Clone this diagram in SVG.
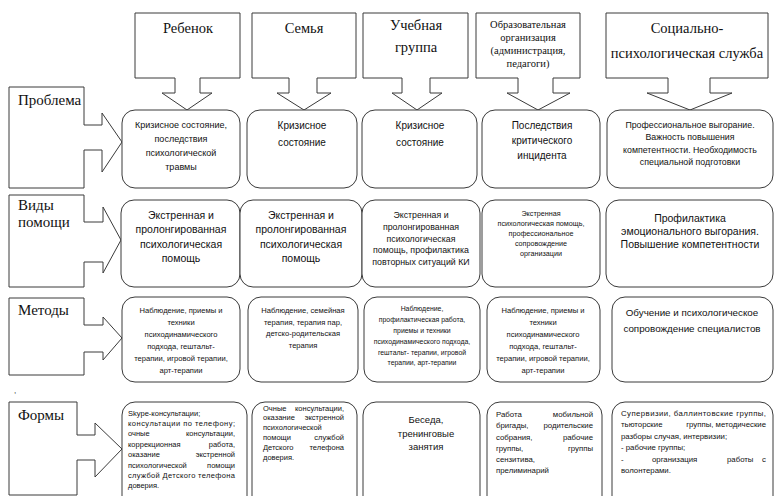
<svg xmlns="http://www.w3.org/2000/svg" width="776" height="496" viewBox="0 0 776 496">
<style>
.shape{fill:#fff;stroke:#3a3a3a;stroke-width:1}
.hdr{font-family:"Liberation Serif","Times New Roman",serif;fill:#111;font-size:14.5px}
.hdrs{font-family:"Liberation Serif","Times New Roman",serif;fill:#111;font-size:10.5px}
.lbl{font-family:"Liberation Serif","Times New Roman",serif;fill:#111;font-size:15px}
.t{font-family:"Liberation Sans",Arial,sans-serif;fill:#111}
.c{text-anchor:middle}
.e{text-anchor:end}
</style>
<rect width="776" height="496" fill="#fff"/>

<!-- Column headers (down-arrow callouts) -->
<g id="h-child">
<path class="shape" d="M135,13 H240 V78 H200 V93 H212 L187,110 L162,93 H175 V78 H135 Z"/>
<text class="hdr c" x="188" y="33">Ребенок</text>
</g>
<g id="h-family">
<path class="shape" d="M252,13 H356 V78 H317 V93 H331 L304,110 L277,93 H289 V78 H252 Z"/>
<text class="hdr c" x="304" y="33">Семья</text>
</g>
<g id="h-group">
<path class="shape" d="M363,13 H468 V78 H430 V93 H442 L417,110 L392,93 H402 V78 H363 Z"/>
<text class="hdr c" x="416" y="30">Учебная</text>
<text class="hdr c" x="416" y="52">группа</text>
</g>
<g id="h-org">
<path class="shape" d="M476,13 H580 V78 H553 V93 H570 L538,110 L507,93 H518 V78 H476 Z"/>
<text class="hdrs c" x="528" y="28">Образовательная</text>
<text class="hdrs c" x="528" y="41">организация</text>
<text class="hdrs c" x="528" y="54">(администрация,</text>
<text class="hdrs c" x="528" y="67">педагоги)</text>
</g>
<g id="h-service">
<path class="shape" d="M606,13 H768 V78 H710 V93 H732 L690,110 L647,93 H668 V78 H606 Z"/>
<text class="hdr c" x="687" y="33">Социально-</text>
<text class="hdr c" x="687" y="58">психологическая служба</text>
</g>

<!-- Row labels (right-arrow callouts) -->
<g id="r-problem">
<path class="shape" d="M9,87 H84 V125 H102 V113 L122,142 L102,172 V150 H84 V188 H9 Z"/>
<text class="lbl" x="18" y="105">Проблема</text>
</g>
<g id="r-help">
<path class="shape" d="M9,195 H84 V222 H103 V207 L121,240 L103,273 V262 H84 V287 H9 Z"/>
<text class="lbl" x="18" y="210">Виды</text>
<text class="lbl" x="18" y="227">помощи</text>
</g>
<g id="r-methods">
<path class="shape" d="M9,298 H84 V325 H103 V317 L122,338 L103,360 V352 H84 V375 H9 Z"/>
<text class="lbl" x="18" y="315">Методы</text>
</g>
<g id="r-forms">
<path class="shape" d="M9,402 H77 V435 H95 V423 L122,449 L95,477 V460 H77 V495 H9 Z"/>
<text class="lbl" x="18" y="420">Формы</text>
</g>
<text class="t" x="14" y="393" font-size="8">,</text>

<g id="connectors"></g>

<!-- Row 1: Problem -->
<g id="p-child">
<rect class="shape" x="122" y="110" width="118" height="78" rx="13"/>
<g class="t c" font-size="9">
<text x="181" y="128">Кризисное состояние,</text>
<text x="181" y="142">последствия</text>
<text x="181" y="156">психологической</text>
<text x="181" y="170">травмы</text>
</g>
</g>
<g id="p-family">
<rect class="shape" x="247" y="110" width="110" height="78" rx="13"/>
<g class="t c" font-size="10">
<text x="302" y="128.5">Кризисное</text>
<text x="302" y="145.5">состояние</text>
</g>
</g>
<g id="p-group">
<rect class="shape" x="362" y="110" width="115" height="78" rx="13"/>
<g class="t c" font-size="10">
<text x="420" y="128.5">Кризисное</text>
<text x="420" y="145.5">состояние</text>
</g>
</g>
<g id="p-org">
<rect class="shape" x="482" y="110" width="118" height="78" rx="13"/>
<g class="t c" font-size="10">
<text x="542" y="128.5">Последствия</text>
<text x="542" y="143.5">критического</text>
<text x="542" y="158.5">инцидента</text>
</g>
</g>
<g id="p-service">
<rect class="shape" x="607" y="110" width="166" height="78" rx="13"/>
<g class="t c" font-size="8.8">
<text x="690" y="128">Профессиональное выгорание.</text>
<text x="690" y="140">Важность повышения</text>
<text x="690" y="153">компетентности. Необходимость</text>
<text x="690" y="165">специальной подготовки</text>
</g>
</g>

<!-- Row 2: Types of help -->
<g id="v-child">
<rect class="shape" x="121" y="200" width="119" height="87" rx="13"/>
<g class="t c" font-size="10.5">
<text x="181" y="218.5">Экстренная и</text>
<text x="181" y="233">пролонгированная</text>
<text x="181" y="247.5">психологическая</text>
<text x="181" y="262">помощь</text>
</g>
</g>
<g id="v-family">
<rect class="shape" x="240" y="200" width="122" height="87" rx="13"/>
<g class="t c" font-size="10.5">
<text x="301" y="218.5">Экстренная и</text>
<text x="301" y="233">пролонгированная</text>
<text x="301" y="247.5">психологическая</text>
<text x="301" y="262">помощь</text>
</g>
</g>
<g id="v-group">
<rect class="shape" x="362" y="200" width="118" height="87" rx="13"/>
<g class="t c" font-size="8.8">
<text x="421" y="218">Экстренная и</text>
<text x="421" y="230">пролонгированная</text>
<text x="421" y="241.5">психологическая</text>
<text x="421" y="253">помощь, профилактика</text>
<text x="421" y="265">повторных ситуаций КИ</text>
</g>
</g>
<g id="v-org">
<rect class="shape" x="482" y="200" width="118" height="87" rx="13"/>
<g class="t c" font-size="7.2">
<text x="541" y="215.5">Экстренная</text>
<text x="541" y="225.5">психологическая помощь,</text>
<text x="541" y="235.5">профессиональное</text>
<text x="541" y="245.5">сопровождение</text>
<text x="541" y="255.5">организации</text>
</g>
</g>
<g id="v-service">
<rect class="shape" x="606" y="200" width="167" height="87" rx="13"/>
<g class="t c" font-size="10.5">
<text x="690" y="221.5">Профилактика</text>
<text x="690" y="235">эмоционального выгорания.</text>
<text x="690" y="248">Повышение компетентности</text>
</g>
</g>

<!-- Row 3: Methods -->
<g id="m-child">
<rect class="shape" x="122" y="297" width="118" height="85" rx="13"/>
<g class="t c" font-size="7.6">
<text x="181" y="312.7">Наблюдение, приемы и</text>
<text x="181" y="324.7">техники</text>
<text x="181" y="336.7">психодинамического</text>
<text x="181" y="348.7">подхода, гештальт-</text>
<text x="181" y="360.7">терапии, игровой терапии,</text>
<text x="181" y="372.7">арт-терапии</text>
</g>
</g>
<g id="m-family">
<rect class="shape" x="248" y="297" width="110" height="85" rx="13"/>
<g class="t c" font-size="7.6">
<text x="303" y="312.7">Наблюдение, семейная</text>
<text x="303" y="324.5">терапия, терапия пар,</text>
<text x="303" y="336">детско-родительская</text>
<text x="303" y="347.7">терапия</text>
</g>
</g>
<g id="m-group">
<rect class="shape" x="364" y="297" width="116" height="85" rx="13"/>
<g class="t c" font-size="6.9">
<text x="422" y="310.5">Наблюдение,</text>
<text x="422" y="322">профилактическая работа,</text>
<text x="422" y="333">приемы и техники</text>
<text x="422" y="344">психодинамического подхода,</text>
<text x="422" y="354.5">гештальт- терапии, игровой</text>
<text x="422" y="364.5">терапии, арт-терапии</text>
</g>
</g>
<g id="m-org">
<rect class="shape" x="487" y="297" width="113" height="85" rx="13"/>
<g class="t c" font-size="7.6">
<text x="543" y="312.7">Наблюдение, приемы и</text>
<text x="543" y="324.7">техники</text>
<text x="543" y="336.7">психодинамического</text>
<text x="543" y="348.7">подхода, гештальт-</text>
<text x="543" y="360.7">терапии, игровой терапии,</text>
<text x="543" y="372.7">арт-терапии</text>
</g>
</g>
<g id="m-service">
<rect class="shape" x="612" y="297" width="161" height="85" rx="13"/>
<g class="t c" font-size="9.8">
<text x="692" y="315.5">Обучение и психологическое</text>
<text x="692" y="331.5">сопровождение специалистов</text>
</g>
</g>

<!-- Row 4: Forms -->
<g id="f-child">
<rect class="shape" x="122" y="402" width="125" height="120" rx="13"/>
<g class="t" font-size="7.5">
<text x="128" y="415.6">Skype-консультации;</text>
<text x="128" y="426" textLength="107" lengthAdjust="spacing">консультации по телефону;</text>
<text x="128" y="436.4">очные</text><text class="e" x="235" y="436.4">консультации,</text>
<text x="128" y="446.8">коррекционная</text><text class="e" x="235" y="446.8">работа,</text>
<text x="128" y="457.2">оказание</text><text class="e" x="235" y="457.2">экстренной</text>
<text x="128" y="467.6">психологической</text><text class="e" x="235" y="467.6">помощи</text>
<text x="128" y="478" textLength="107" lengthAdjust="spacing">службой Детского телефона</text>
<text x="128" y="488.4">доверия.</text>
</g>
</g>
<g id="f-family">
<rect class="shape" x="252" y="402" width="105" height="120" rx="13"/>
<g class="t" font-size="7.5">
<text x="263" y="410.6">Очные</text><text class="e" x="344" y="410.6">консультации,</text>
<text x="263" y="420.4">оказание</text><text class="e" x="344" y="420.4">экстренной</text>
<text x="263" y="430.2">психологической</text>
<text x="263" y="440">помощи</text><text class="e" x="344" y="440">службой</text>
<text x="263" y="449.8">Детского</text><text class="e" x="344" y="449.8">телефона</text>
<text x="263" y="459.6">доверия.</text>
</g>
</g>
<g id="f-group">
<rect class="shape" x="363" y="402" width="117" height="120" rx="13"/>
<g class="t c" font-size="9.5">
<text x="426" y="423.3">Беседа,</text>
<text x="426" y="436.5">тренинговые</text>
<text x="426" y="450.3">занятия</text>
</g>
</g>
<g id="f-org">
<rect class="shape" x="487" y="402" width="115" height="120" rx="13"/>
<g class="t" font-size="7.8">
<text x="496" y="416.7">Работа</text><text class="e" x="593" y="416.7">мобильной</text>
<text x="496" y="428.2">бригады,</text><text class="e" x="593" y="428.2">родительские</text>
<text x="496" y="439.5">собрания,</text><text class="e" x="593" y="439.5">рабочие</text>
<text x="496" y="450.8">группы,</text><text class="e" x="593" y="450.8">группы</text>
<text x="496" y="462">сензитива,</text>
<text x="496" y="473.2">прелиминарий</text>
</g>
</g>
<g id="f-service">
<rect class="shape" x="612" y="402" width="161" height="120" rx="13"/>
<g class="t" font-size="7.8">
<text x="621" y="415.7" textLength="145" lengthAdjust="spacing">Супервизии, баллинтовские группы,</text>
<text x="621" y="427.2">тьюторские</text><text class="e" x="766" y="427.2">группы, методические</text>
<text x="621" y="438.7">разборы случая, интервизии;</text>
<text x="621" y="450.2">- рабочие группы;</text>
<text x="621" y="461.7">-</text><text x="652" y="461.7">организация</text><text x="727" y="461.7">работы</text><text class="e" x="766" y="461.7">с</text>
<text x="621" y="473.2">волонтерами.</text>
</g>
</g>
</svg>
